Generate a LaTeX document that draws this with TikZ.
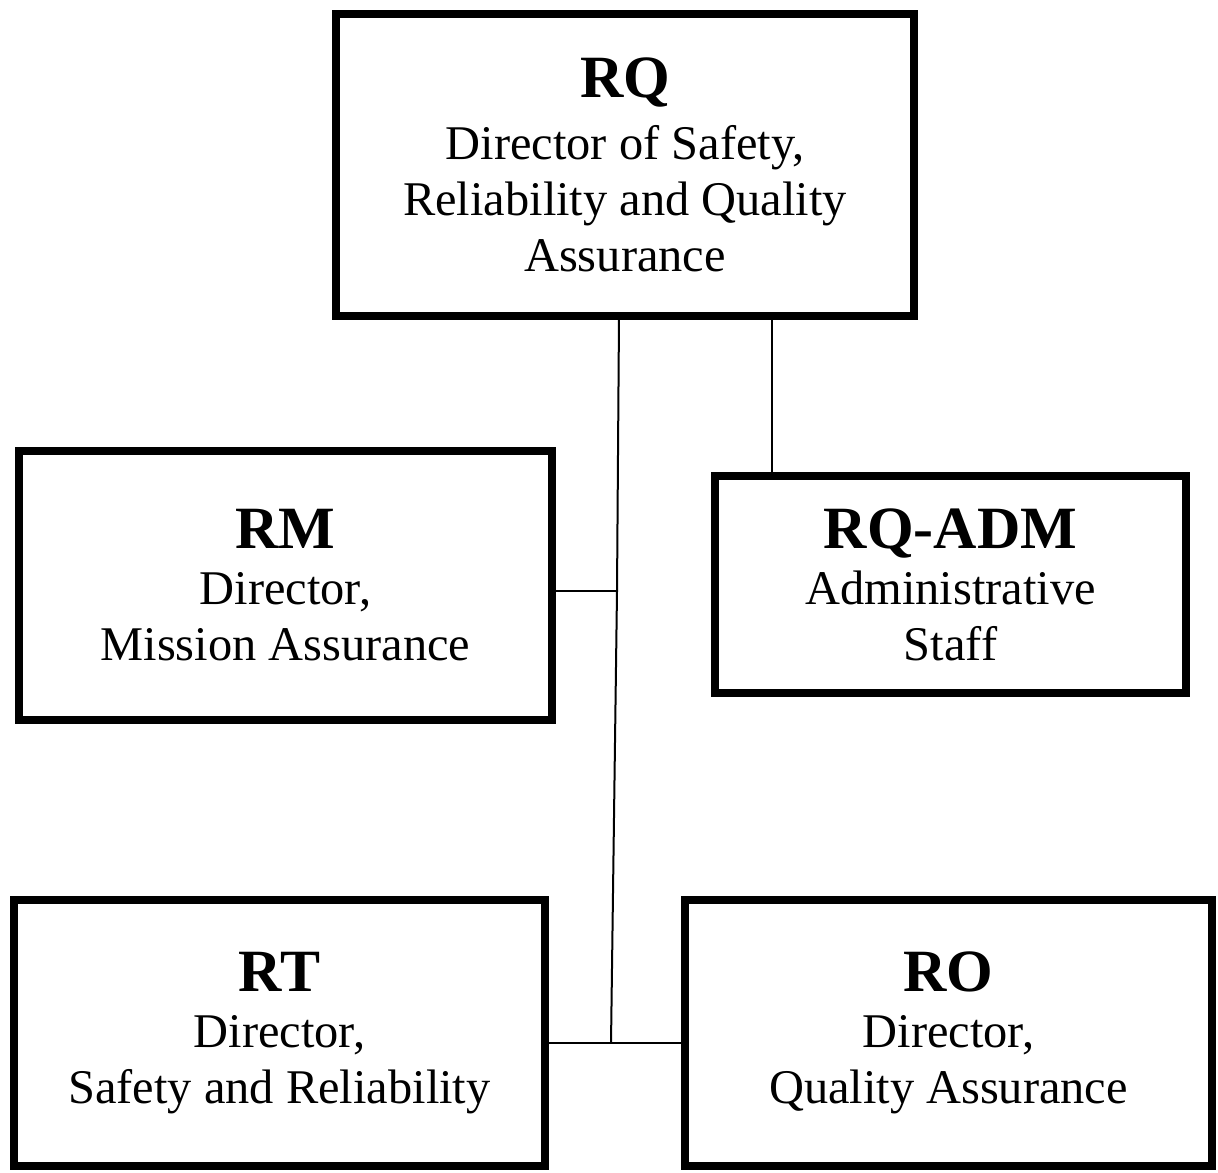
\documentclass[tikz,border=0pt]{standalone}
\usepackage{fontspec}
\setmainfont{Liberation Serif}
\newcommand{\unittitle}{\fontsize{30}{33}\selectfont\bfseries}
\begin{document}
\begin{tikzpicture}[x=0.5pt,y=-0.5pt,
  unitbox/.style={draw, line width=4pt, rectangle, inner sep=0pt,
    align=center, font=\fontsize{24.2}{28}\selectfont},
  link/.style={line width=1pt}]
\useasboundingbox (0,0) rectangle (1218,1172);

% organisation units
\node[unitbox, minimum width=289pt, minimum height=151pt] (RQ) at (625,165)
  {{\unittitle RQ}\\[3pt] Director of Safety,\\ Reliability and Quality\\ Assurance};
\node[unitbox, minimum width=266.5pt, minimum height=134.5pt] (RM) at (285.5,585.5)
  {{\unittitle RM}\\ Director,\\ Mission Assurance};
\node[unitbox, minimum width=235.5pt, minimum height=108.5pt] (ADM) at (950.5,584.5)
  {{\unittitle RQ-ADM}\\ Administrative\\ Staff};
\node[unitbox, minimum width=265.5pt, minimum height=133pt] (RT) at (279.5,1033)
  {{\unittitle RT}\\ Director,\\ Safety and Reliability};
\node[unitbox, minimum width=263.5pt, minimum height=133pt] (RO) at (948.5,1033)
  {{\unittitle RO}\\ Director,\\ Quality Assurance};

% reporting lines
\coordinate (trunktop) at (619,316);
\coordinate (jm) at (617,591);
\coordinate (jb) at (611,1043);
\coordinate (admx) at (772,0);
\draw[link] (trunktop) -- (jm) -- (jb);
\draw[link] (RM.east |- jm) -- (jm);
\draw[link] (RT.east |- jb) -- (RO.west |- jb);
\draw[link] (RQ.south -| admx) -- (ADM.north -| admx);
\end{tikzpicture}
\end{document}
